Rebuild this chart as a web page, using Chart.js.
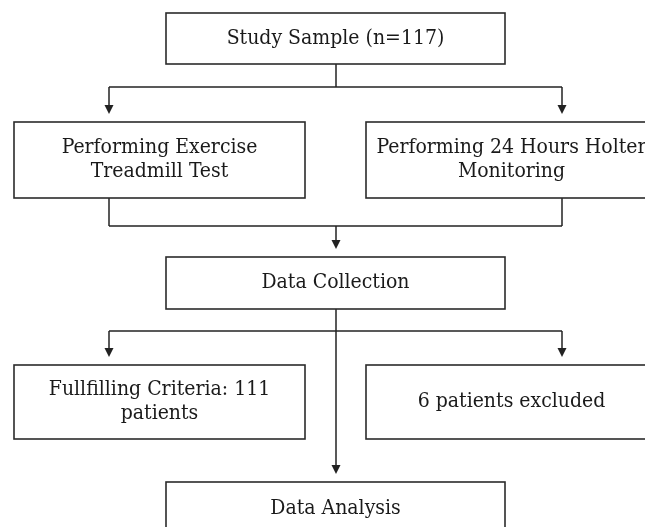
<!DOCTYPE html>
<html>
<head>
<meta charset="utf-8">
<script src="https://cdn.jsdelivr.net/npm/chart.js@4.4.0/dist/chart.umd.min.js"></script>
<style>
  html, body { margin: 0; padding: 0; background: #ffffff; }
  #flow { display: block; }
</style>
</head>
<body>
<canvas id="flow" width="645" height="527"></canvas>
<script>
// flowchart steps
const stepLabels = [
  ["Study Sample (n=117)"],
  ["Performing Exercise", "Treadmill Test"],
  ["Performing 24 Hours Holter", "Monitoring"],
  ["Data Collection"],
  ["Fullfilling Criteria: 111", "patients"],
  ["6 patients excluded"],
  ["Data Analysis"],
];
const stepCol = [1, 0, 2, 1, 0, 2, 1];
const stepRow = [0, 1, 1, 2, 3, 3, 4];
// links: [from steps, to steps]
const linkFrom = [[0], [1, 2], [3]];
const linkTo = [[1, 2], [3], [4, 5, 6]];

// layout, in axis units (axes run 0..645 and 0..527)
const layout = {
  colX: [109, 336, 562],
  colSpan: [[14, 305], [166, 505], [366, 657]],
  rowSpan: [[13, 64], [122, 198], [257, 309], [365, 439], [482, 535]],
  busY: [87, 226, 331],
  arrowGap: 8,
  lineHeight: 24,
};

function drawArrow(ctx, x, y1, y2) {
  ctx.beginPath();
  ctx.moveTo(x, y1);
  ctx.lineTo(x, y2 - 7);
  ctx.stroke();
  ctx.beginPath();
  ctx.moveTo(x - 4.5, y2 - 9);
  ctx.lineTo(x + 4.5, y2 - 9);
  ctx.lineTo(x, y2);
  ctx.closePath();
  ctx.fill();
}

const flowPlugin = {
  id: "flow",
  afterDatasetsDraw(chart) {
    const ctx = chart.ctx;
    const xs = chart.scales.x;
    const ys = chart.scales.y;
    const px = v => xs.getPixelForValue(v);
    const py = v => ys.getPixelForValue(v);
    ctx.save();
    ctx.strokeStyle = "#222222";
    ctx.fillStyle = "#222222";
    ctx.lineWidth = 1.5;

    // connectors
    linkFrom.forEach((from, i) => {
      const bus = py(layout.busY[i]);
      const all = from.concat(linkTo[i]).map(s => px(layout.colX[stepCol[s]]));
      from.forEach(s => {
        ctx.beginPath();
        ctx.moveTo(px(layout.colX[stepCol[s]]), py(layout.rowSpan[stepRow[s]][1]));
        ctx.lineTo(px(layout.colX[stepCol[s]]), bus);
        ctx.stroke();
      });
      ctx.beginPath();
      ctx.moveTo(Math.min(...all), bus);
      ctx.lineTo(Math.max(...all), bus);
      ctx.stroke();
      linkTo[i].forEach(s => {
        const top = py(layout.rowSpan[stepRow[s]][0]) - layout.arrowGap;
        drawArrow(ctx, px(layout.colX[stepCol[s]]), bus, top);
      });
    });

    // boxes and text
    ctx.lineWidth = 1.6;
    ctx.font = "21px 'DejaVu Serif Condensed', 'DejaVu Serif'";
    ctx.textAlign = "center";
    ctx.textBaseline = "middle";
    stepLabels.forEach((lines, s) => {
      const span = layout.colSpan[stepCol[s]];
      const rs = layout.rowSpan[stepRow[s]];
      const x1 = px(span[0]), x2 = px(span[1]);
      const y1 = py(rs[0]), y2 = py(rs[1]);
      ctx.fillStyle = "#ffffff";
      ctx.fillRect(x1, y1, x2 - x1, y2 - y1);
      ctx.strokeStyle = "#2b2b2b";
      ctx.strokeRect(x1, y1, x2 - x1, y2 - y1);
      ctx.fillStyle = "#1a1a1a";
      const cx = (x1 + x2) / 2;
      const cy = (y1 + y2) / 2;
      lines.forEach((t, k) => {
        const off = (k - (lines.length - 1) / 2) * layout.lineHeight;
        ctx.fillText(t, cx, cy + off);
      });
    });
    ctx.restore();
  },
};

new Chart(document.getElementById("flow"), {
  type: "scatter",
  data: {
    datasets: [
      {
        label: "steps",
        data: stepLabels.map((l, s) => ({
          x: layout.colX[stepCol[s]],
          y: (layout.rowSpan[stepRow[s]][0] + layout.rowSpan[stepRow[s]][1]) / 2,
        })),
        pointRadius: 0,
      },
    ],
  },
  options: {
    responsive: false,
    animation: false,
    layout: { padding: 0 },
    plugins: { legend: { display: false }, tooltip: { enabled: false } },
    scales: {
      x: { type: "linear", min: 0, max: 645, display: false },
      y: { type: "linear", min: 0, max: 527, reverse: true, display: false },
    },
  },
  plugins: [flowPlugin],
});
</script>
</body>
</html>
